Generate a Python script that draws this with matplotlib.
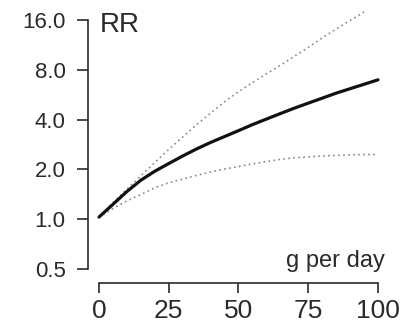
import numpy as np
import matplotlib
matplotlib.use("Agg")
import matplotlib.pyplot as plt
from matplotlib.ticker import FixedLocator, NullLocator

plt.rcParams["font.family"] = ["Liberation Sans", "DejaVu Sans"]

# Data (relative risk vs intake, g per day)
dose = [0, 5, 10, 15, 20, 25, 30, 35, 40, 45, 50,
        55, 60, 65, 70, 75, 80, 85, 90, 95, 100]
rr = [1.03, 1.23, 1.47, 1.72, 1.95, 2.17, 2.41, 2.66, 2.91, 3.16, 3.43,
      3.73, 4.03, 4.35, 4.69, 5.03, 5.39, 5.78, 6.15, 6.54, 6.96]
rr_low = [1.03, 1.16, 1.29, 1.41, 1.55, 1.66, 1.75, 1.84, 1.93, 2.01, 2.08,
          2.16, 2.23, 2.30, 2.35, 2.38, 2.41, 2.43, 2.45, 2.46, 2.46]
dose_up = dose[:-1]
rr_up = [1.03, 1.26, 1.52, 1.83, 2.20, 2.64, 3.14, 3.73, 4.38, 5.13, 5.90,
         6.68, 7.57, 8.51, 9.65, 10.93, 12.47, 14.12, 15.89, 17.88]

y_ticks = [0.5, 1.0, 2.0, 4.0, 8.0, 16.0]
x_ticks = [0, 25, 50, 75, 100]

text_col = "#2a2a2a"

fig = plt.figure(figsize=(4.02, 3.30), dpi=100)
ax = fig.add_axes([99 / 402, 61 / 330, 279 / 402, 249 / 330])

ax.plot(dose_up, rr_up, linestyle=(0, (1, 2)), color="#8a8a8a",
        linewidth=1.2, clip_on=False)
ax.plot(dose, rr_low, linestyle=(0, (1, 2)), color="#8a8a8a", linewidth=1.2)
ax.plot(dose, rr, color="#111111", linewidth=2.3, solid_capstyle="round",
        clip_on=False)

ax.set_yscale("log", base=2)
ax.set_xlim(0, 100)
ax.set_ylim(0.5, 16)
ax.yaxis.set_major_locator(FixedLocator(y_ticks))
ax.yaxis.set_minor_locator(NullLocator())
ax.set_yticklabels(["%.1f" % v for v in y_ticks])
ax.set_xticks(x_ticks)
ax.set_xticklabels([str(v) for v in x_ticks])

for s in ["top", "right"]:
    ax.spines[s].set_visible(False)
ax.spines["left"].set_position(("outward", 8))
ax.spines["bottom"].set_position(("outward", 10))
ax.spines["left"].set_bounds(0.5, 16)
ax.spines["bottom"].set_bounds(0, 100)
for s in ["left", "bottom"]:
    ax.spines[s].set_color(text_col)
    ax.spines[s].set_linewidth(1.2)

ax.tick_params(axis="y", length=8, width=1.2, pad=8, labelsize=16,
               colors=text_col)
ax.tick_params(axis="x", length=7.5, width=1.2, pad=4, labelsize=19,
               colors=text_col)

ax.text(0.004, 0.952, "RR", transform=ax.transAxes, fontsize=20,
        color=text_col, va="baseline", ha="left")
ax.text(1.025, 0.008, "g per day", transform=ax.transAxes, fontsize=17,
        color=text_col, va="baseline", ha="right")

plt.savefig("out.png", dpi=100)
